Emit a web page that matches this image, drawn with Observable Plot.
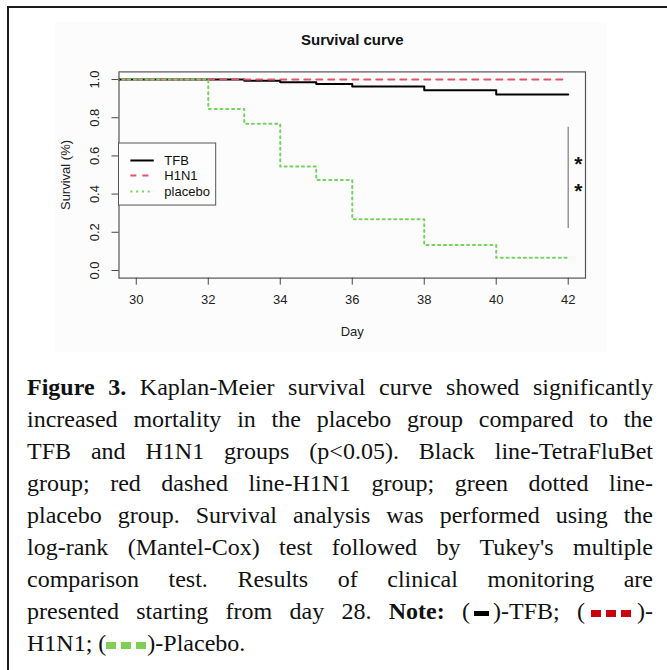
<!DOCTYPE html>
<html>
<head>
<meta charset="utf-8">
<script src="https://cdn.jsdelivr.net/npm/d3@7"></script>
<script src="https://cdn.jsdelivr.net/npm/@observablehq/plot@0.6"></script>
<style>
  html, body { margin: 0; padding: 0; background: #fff; }
  #page { position: relative; width: 667px; height: 670px; overflow: hidden; }
  #bordTop { position: absolute; left: 8px; top: 6px; width: 659px; height: 2px; background: #1a1a1a; }
  #bordLeft { position: absolute; left: 7px; top: 6px; width: 2px; height: 664px; background: #1a1a1a; }
  #chart { position: absolute; left: 55px; top: 22px; }
  #caption { position: absolute; left: 27px; width: 626px; font-family: "Liberation Serif", "Times New Roman", serif; color: #111; line-height: 32px; }
  .ln { white-space: nowrap; text-align: justify; text-align-last: justify; }
  .ln.last { text-align: left; text-align-last: left; }
  .mk { display: inline-block; vertical-align: middle; }
</style>
</head>
<body>
<div id="page">
  <div id="bordTop"></div>
  <div id="bordLeft"></div>
  <div id="chart"></div>
  <div id="caption"></div>
</div>
<script>
// ---- data ----
const seriesNames = ["TFB", "H1N1", "placebo"];
const seriesColors = ["#000000", "#DF536B", "#72D35E"];
const seriesDash = [null, "6,6", "2,3.8"];

const tfbDays = [28, 33, 34, 35, 36, 38, 40, 42];
const tfbSurv = [1, 0.994, 0.986, 0.977, 0.963, 0.944, 0.922, 0.922];

const h1n1Days = [28, 42];
const h1n1Surv = [1, 1];

const placeboDays = [28, 32, 33, 34, 35, 36, 38, 40, 42];
const placeboSurv = [1, 0.846, 0.768, 0.544, 0.474, 0.268, 0.133, 0.066, 0.066];

const xTicks = [30, 32, 34, 36, 38, 40, 42];
const yTicks = [0, 0.2, 0.4, 0.6, 0.8, 1.0];

const titleText = "Survival curve";
const xLabel = "Day";
const yLabel = "Survival (%)";

// significance annotation (day, survival)
const sigBar = [{x: 42, y1: 0.22, y2: 0.75}];
const sigStars = [{x: 42.28, y: 0.58}, {x: 42.28, y: 0.44}];

// legend box & rows in data units
const legendBox = {x1: 29.52, x2: 32.22, y1: 0.34, y2: 0.665};
const legendRowsY = [0.576, 0.497, 0.414];
const legendLineX = [29.85, 30.5];
const legendTextX = 30.78;

// ---- build ----
const zip = (xs, ys) => xs.map((d, i) => ({day: d, s: ys[i]}));
const series = [zip(tfbDays, tfbSurv), zip(h1n1Days, h1n1Surv), zip(placeboDays, placeboSurv)];

const marks = [];
marks.push(Plot.frame({stroke: "#555", strokeWidth: 1.2}));
marks.push(Plot.axisX({ticks: xTicks, tickSize: 7, tickPadding: 10, label: null, fontSize: 13, stroke: "#444", color: "#222"}));
marks.push(Plot.axisY({ticks: yTicks, tickSize: 7, tickFormat: () => "", label: null, stroke: "#444"}));
marks.push(Plot.text(yTicks, {y: d => d, frameAnchor: "left", dx: -24, rotate: -90, text: d => d.toFixed(1),
  textAnchor: "middle", lineAnchor: "middle", fontSize: 13, fill: "#222"}));
marks.push(Plot.text([titleText], {frameAnchor: "top", dy: -31.5, text: d => d, textAnchor: "middle", lineAnchor: "middle",
  fontWeight: "bold", fontSize: 15, fill: "#111"}));
marks.push(Plot.text([xLabel], {frameAnchor: "bottom", dy: 54, text: d => d, textAnchor: "middle", lineAnchor: "middle", fontSize: 13, fill: "#222"}));
marks.push(Plot.text([yLabel], {frameAnchor: "left", dx: -53, rotate: -90, text: d => d, textAnchor: "middle", lineAnchor: "middle", fontSize: 13, fill: "#222"}));

series.forEach((data, i) => {
  marks.push(Plot.line(data, {x: "day", y: "s", curve: "step-after", stroke: seriesColors[i], strokeWidth: 2,
    strokeDasharray: seriesDash[i] || undefined, clip: true}));
});

marks.push(Plot.ruleX(sigBar, {x: "x", y1: "y1", y2: "y2", stroke: "#888", strokeWidth: 1.3}));
marks.push(Plot.text(sigStars, {x: "x", y: "y", text: () => "*", fontSize: 21, dy: 5, fill: "#111", fontWeight: "bold"}));

marks.push(Plot.rect([legendBox], {x1: "x1", x2: "x2", y1: "y1", y2: "y2", fill: "#fdfdfd", stroke: "#555", strokeWidth: 1}));
seriesNames.forEach((name, i) => {
  const row = [{x1: legendLineX[0], x2: legendLineX[1], y: legendRowsY[i], name, tx: legendTextX}];
  marks.push(Plot.ruleY(row, {y: "y", x1: "x1", x2: "x2", stroke: seriesColors[i], strokeWidth: 2,
    strokeDasharray: seriesDash[i] || undefined}));
  marks.push(Plot.text(row, {x: "tx", y: "y", text: "name", textAnchor: "start", fontSize: 13, fill: "#111"}));
});

const chart = Plot.plot({
  width: 552, height: 330,
  marginLeft: 63.5, marginRight: 22, marginTop: 49.4, marginBottom: 74.4,
  x: {domain: [29.52, 42.48]},
  y: {domain: [-0.04, 1.04]},
  style: {background: "#fcfcfc", fontFamily: "Liberation Sans, Arial, sans-serif", fontSize: "13px", color: "#222"},
  marks
});
document.getElementById("chart").appendChild(chart);

// ---- caption ----
const mkBlack = '<span class="mk" style="width:15px;height:5px;background:#000;margin:0 4px;"></span>';
const sq = c => `<span class="mk" style="width:10px;height:7px;background:${c};margin-right:5px;"></span>`;
const mkRed = '<span style="margin-left:6px"></span>' + sq("#c8000f") + sq("#c8000f") + sq("#c8000f").replace("margin-right:5px", "margin-right:6px");
const mkGreen = sq("#7fcf55") + sq("#7fcf55") + sq("#7fcf55").replace("margin-right:5px", "margin-right:1px");
const captionLines = [
  "<b>Figure 3.</b> Kaplan-Meier survival curve showed significantly",
  "increased mortality in the placebo group compared to the",
  "TFB and H1N1 groups (p&lt;0.05). Black line-TetraFluBet",
  "group; red dashed line-H1N1 group; green dotted line-",
  "placebo group. Survival analysis was performed using the",
  "log-rank (Mantel-Cox) test followed by Tukey's multiple",
  "comparison test. Results of clinical monitoring are",
  `presented starting from day 28. <b>Note:</b> (${mkBlack})-TFB; (${mkRed})-`,
  `H1N1; (${mkGreen})-Placebo.`
];
const cap = document.getElementById("caption");
cap.innerHTML = captionLines.map((l, i) => `<div class="ln${i === captionLines.length - 1 ? " last" : ""}">${l}</div>`).join("");
const lines = Array.from(cap.querySelectorAll(".ln"));
let F = 24;
function maxW() {
  let m = 0;
  lines.forEach(el => { el.style.width = "max-content"; m = Math.max(m, el.getBoundingClientRect().width); el.style.width = ""; });
  return m;
}
while (F > 14) { cap.style.fontSize = F + "px"; if (maxW() <= 620) break; F -= 0.25; }
const baselineOffset = (32 - 1.107 * F) / 2 + 0.891 * F;
cap.style.top = (395 - baselineOffset) + "px";
</script>
</body>
</html>
